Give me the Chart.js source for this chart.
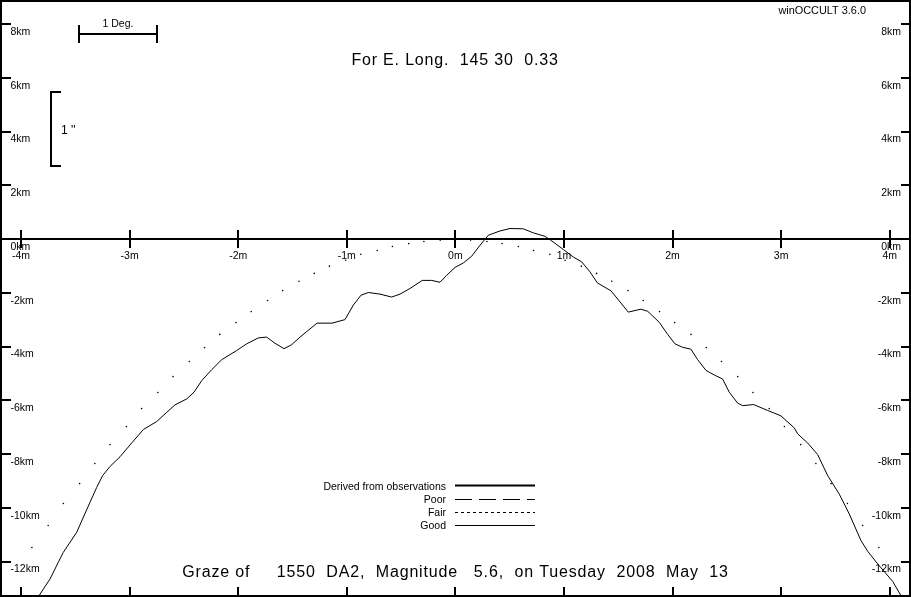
<!DOCTYPE html>
<html>
<head>
<meta charset="utf-8">
<title>winOCCULT graze profile</title>
<script src="https://cdn.jsdelivr.net/npm/chart.js@4"></script>
<style>
    html, body { margin: 0; padding: 0; background: #fff; overflow: hidden; }
    canvas { display: block; }
</style>
</head>
<body>
<canvas id="grafico" width="911" height="597"></canvas>
<script>
// perfil lunar: [minutos, km]
const perfil = [
    [-3.834,-13.27],[-3.733,-12.65],[-3.657,-12.03],[-3.611,-11.66],[-3.487,-10.91],[-3.426,-10.35],[-3.365,-9.80],
    [-3.303,-9.24],[-3.248,-8.80],[-3.180,-8.46],[-3.088,-8.10],[-2.981,-7.59],[-2.874,-7.09],[-2.750,-6.79],
    [-2.658,-6.45],[-2.582,-6.17],[-2.474,-5.95],[-2.407,-5.70],[-2.336,-5.27],[-2.244,-4.86],[-2.152,-4.49],
    [-2.014,-4.15],[-1.922,-3.90],[-1.815,-3.68],[-1.738,-3.65],[-1.661,-3.88],[-1.578,-4.08],[-1.507,-3.93],
    [-1.431,-3.65],[-1.274,-3.13],[-1.136,-3.13],[-1.017,-3.00],[-0.940,-2.46],[-0.869,-2.09],[-0.802,-1.99],
    [-0.694,-2.05],[-0.587,-2.16],[-0.510,-2.05],[-0.418,-1.84],[-0.305,-1.54],[-0.218,-1.54],[-0.142,-1.61],
    [-0.080,-1.35],[-0.004,-1.06],[0.073,-0.89],[0.150,-0.64],[0.227,-0.23],[0.303,0.14],[0.411,0.30],
    [0.503,0.39],[0.625,0.38],[0.717,0.23],[0.825,0.10],[0.887,-0.07],[0.994,-0.39],[1.086,-0.67],
    [1.163,-0.85],[1.239,-1.22],[1.307,-1.63],[1.433,-1.93],[1.494,-2.23],[1.592,-2.72],[1.709,-2.61],
    [1.771,-2.69],[1.878,-3.10],[1.955,-3.55],[2.022,-3.90],[2.093,-4.03],[2.169,-4.10],[2.231,-4.49],
    [2.308,-4.89],[2.384,-5.06],[2.461,-5.21],[2.522,-5.70],[2.600,-6.11],[2.646,-6.20],[2.747,-6.16],
    [2.876,-6.38],[2.998,-6.58],[3.121,-7.03],[3.152,-7.25],[3.244,-7.59],[3.336,-8.02],[3.428,-8.80],
    [3.535,-9.49],[3.627,-10.23],[3.735,-11.22],[3.797,-11.62],[3.889,-12.09],[4.027,-12.74],[4.103,-13.27]
];

// limbo medio (pontilhado)
const limbo = [
    [-3.90,-11.48],[-3.75,-10.66],[-3.61,-9.84],[-3.46,-9.10],[-3.32,-8.35],[-3.18,-7.65],[-3.03,-6.98],
    [-2.89,-6.31],[-2.74,-5.71],[-2.60,-5.12],[-2.45,-4.56],[-2.31,-4.04],[-2.17,-3.55],[-2.02,-3.11],
    [-1.88,-2.70],[-1.73,-2.29],[-1.59,-1.92],[-1.44,-1.57],[-1.30,-1.28],[-1.16,-1.01],[-1.01,-0.79],
    [-0.87,-0.57],[-0.72,-0.43],[-0.58,-0.28],[-0.43,-0.17],[-0.29,-0.09],[-0.14,-0.04],[0,-0.02],
    [0.14,-0.04],[0.29,-0.09],[0.43,-0.17],[0.58,-0.28],[0.72,-0.43],[0.87,-0.57],[1.01,-0.79],
    [1.16,-1.01],[1.30,-1.28],[1.44,-1.57],[1.59,-1.92],[1.73,-2.29],[1.88,-2.70],[2.02,-3.11],
    [2.17,-3.55],[2.31,-4.04],[2.45,-4.56],[2.60,-5.12],[2.74,-5.71],[2.89,-6.31],[3.03,-6.98],
    [3.18,-7.65],[3.32,-8.35],[3.46,-9.10],[3.61,-9.84],[3.75,-10.66],[3.90,-11.48]
];

const fonte = '"Liberation Sans", Arial, sans-serif';
const textos = [
    { t: 'winOCCULT 3.6.0', x: 866, y: 11, a: 'right', s: 10.9 },
    { t: '1 Deg.', x: 118, y: 24, a: 'center', s: 10.5 },
    { t: "1 ''", x: 61, y: 130.5, a: 'left', s: 12 },
    { t: 'For E. Long.  145 30  0.33', x: 455, y: 60.5, a: 'center', s: 16, ls: '0.82px' },
    { t: 'Graze of     1550  DA2,  Magnitude   5.6,  on Tuesday  2008  May  13', x: 455.5, y: 572.5, a: 'center', s: 16, ls: '0.84px' },
    { t: 'Derived from observations', x: 446, y: 487, a: 'right', s: 10.5 },
    { t: 'Poor', x: 446, y: 500, a: 'right', s: 10.5 },
    { t: 'Fair', x: 446, y: 513, a: 'right', s: 10.5 },
    { t: 'Good', x: 446, y: 526, a: 'right', s: 10.5 }
];

const legendaLinhas = [
    { y: 485, w: 2, dash: [] },
    { y: 499, w: 1, dash: [17, 7] },
    { y: 512, w: 1, dash: [3, 3] },
    { y: 525, w: 1, dash: [] }
];

// moldura, marcas dos eixos, escalas e legenda
const moldura = {
    id: 'moldura',
    afterDraw(chart) {
        const c = chart.ctx, sx = chart.scales.x, sy = chart.scales.y;
        const y0 = Math.round(sy.getPixelForValue(0));
        c.save();
        c.fillStyle = '#000';
        c.fillRect(0, 0, 2, 597);
        c.fillRect(909, 0, 2, 597);
        c.fillRect(0, 0, 911, 2);
        c.fillRect(0, 595, 911, 2);
        c.fillRect(0, y0 - 1, 911, 2);

        sx.ticks.forEach(t => {
            const px = Math.round(sx.getPixelForValue(t.value));
            c.fillRect(px - 1, y0 - 9, 2, 18);
            c.fillRect(px - 1, 587, 2, 9);
        });
        sy.ticks.forEach(t => {
            if (t.value === 0) return;
            const py = Math.round(sy.getPixelForValue(t.value));
            c.fillRect(2, py - 1, 9, 2);
            c.fillRect(901, py - 1, 8, 2);
        });

        // 1 Deg.
        c.fillRect(78, 25, 2, 18);
        c.fillRect(156, 25, 2, 18);
        c.fillRect(78, 33, 80, 2);
        // 1 ''
        c.fillRect(50, 91, 2, 76);
        c.fillRect(50, 91, 11, 2);
        c.fillRect(50, 165, 11, 2);

        c.strokeStyle = '#000';
        legendaLinhas.forEach(l => {
            c.beginPath();
            c.lineWidth = l.w;
            c.setLineDash(l.dash);
            c.moveTo(455, l.y + 0.5);
            c.lineTo(535, l.y + 0.5);
            c.stroke();
        });
        c.setLineDash([]);

        c.textBaseline = 'middle';
        textos.forEach(o => {
            c.font = o.s + 'px ' + fonte;
            c.letterSpacing = o.ls || '0px';
            c.textAlign = o.a;
            c.fillText(o.t, o.x, o.y);
        });
        c.restore();
    }
};

// sem margem extra: a area do grafico ocupa o canvas todo
const semPadding = (s) => {
    s.paddingTop = 0;
    s.paddingBottom = 0;
    s.paddingLeft = 0;
    s.paddingRight = 0;
};

const eixoKm = (pos, recuo) => ({
    type: 'linear',
    position: pos,
    min: -13.32,
    max: 8.893,
    afterFit: (s) => {
        semPadding(s);
        s.width = 5.5;
    },
    border: { display: false },
    grid: { display: false, drawTicks: false },
    ticks: {
        mirror: true,
        padding: recuo,
        stepSize: 2,
        includeBounds: false,
        labelOffset: 8,
        color: '#000',
        font: { family: fonte, size: 10.5 },
        callback: v => v + 'km'
    }
});

new Chart(document.getElementById('grafico').getContext('2d'), {
    type: 'scatter',
    data: {
        datasets: [
            { label: 'Good', data: perfil.map(p => ({ x: p[0], y: p[1] })), showLine: true, borderColor: '#000', borderWidth: 1, pointRadius: 0, yAxisID: 'y' },
            { label: 'Limb', data: limbo.map(p => ({ x: p[0], y: p[1] })), showLine: false, backgroundColor: '#000', borderWidth: 0, pointRadius: 0.8, yAxisID: 'y' }
        ]
    },
    options: {
        responsive: false,
        animation: false,
        layout: { autoPadding: false, padding: 0 },
        plugins: { legend: { display: false }, title: { display: false }, tooltip: { enabled: false } },
        scales: {
            x: {
                type: 'linear',
                position: { y: 0 },
                min: -4.143,
                max: 4.145,
                afterFit: semPadding,
                border: { display: false },
                grid: { display: false, tickLength: 9 },
                ticks: {
                    stepSize: 1,
                    includeBounds: false,
                    autoSkip: false,
                    maxRotation: 0,
                    padding: 2,
                    color: '#000',
                    font: { family: fonte, size: 10.5 },
                    callback: v => v + 'm'
                }
            },
            y: eixoKm('left', 5),
            y2: eixoKm('right', -4.5)
        }
    },
    plugins: [moldura]
});
</script>
</body>
</html>
